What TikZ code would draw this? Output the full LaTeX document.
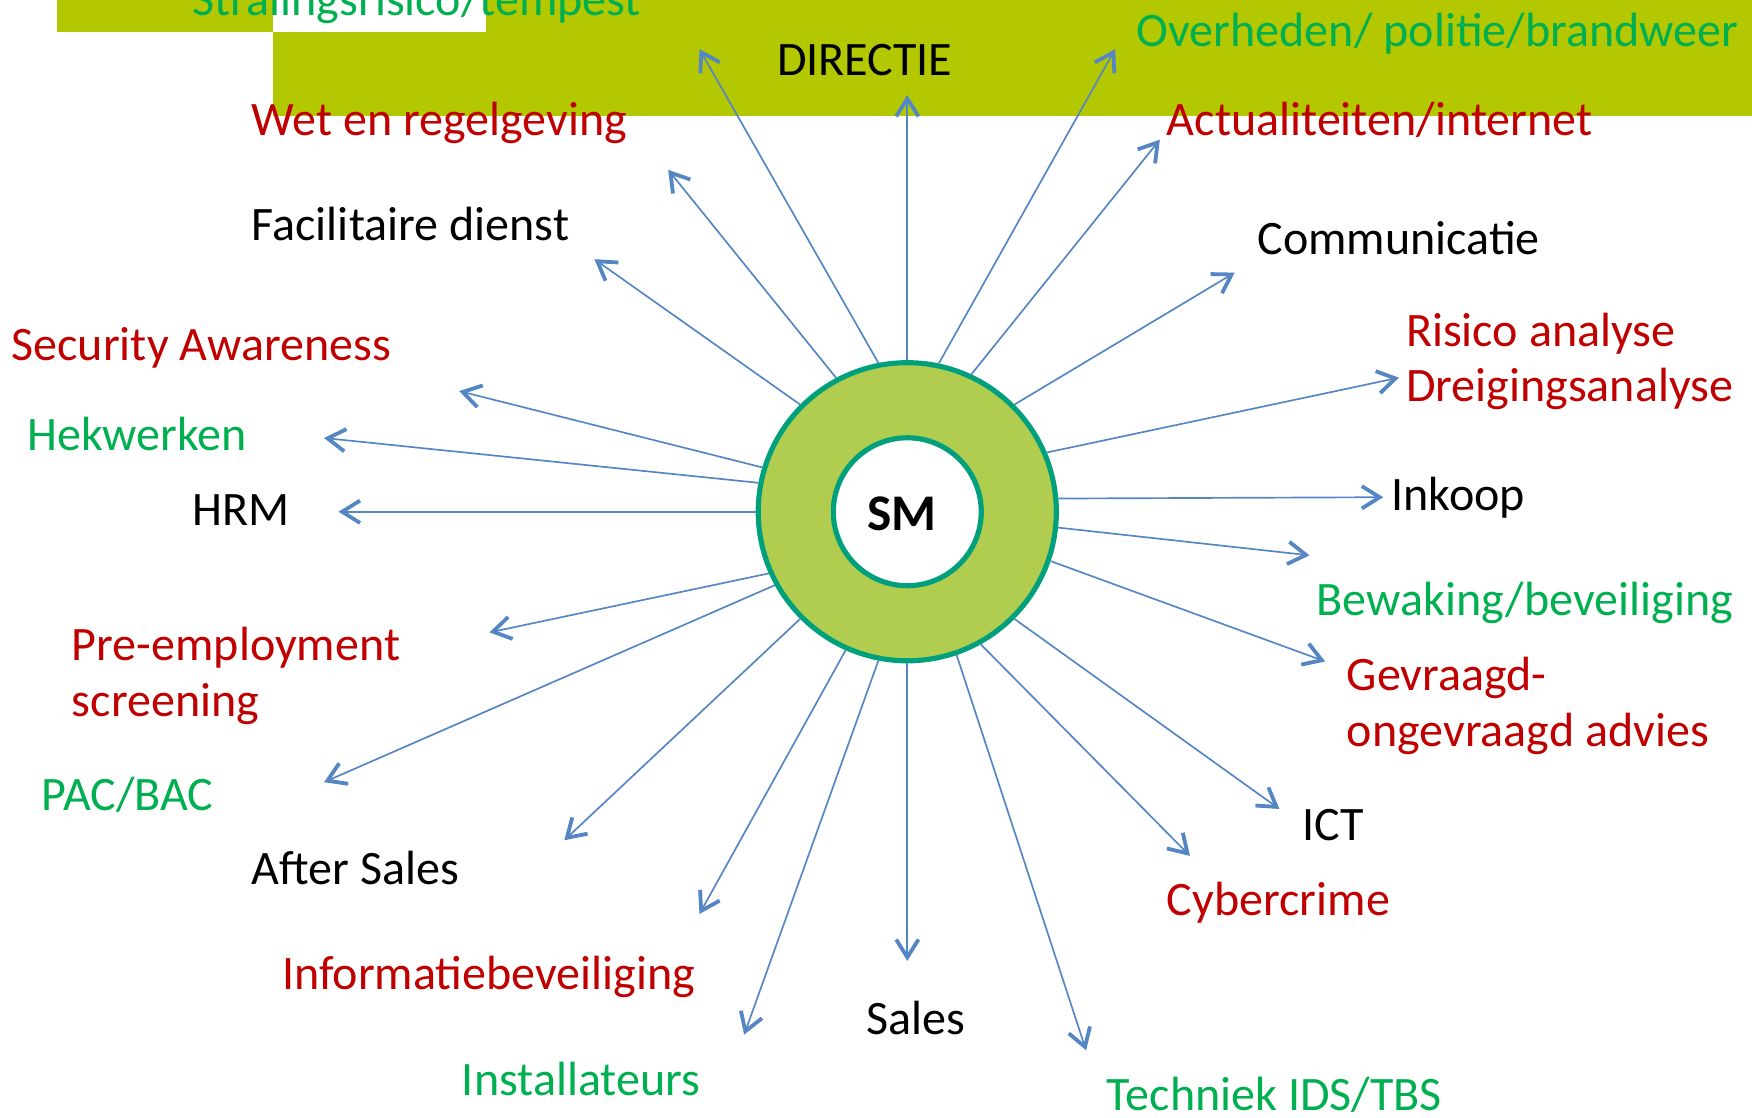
\documentclass[tikz,border=0pt]{standalone}
\usepackage{fontspec}
\setmainfont{Carlito}
\usetikzlibrary{arrows.meta}
\definecolor{band}{RGB}{179,200,0}
\definecolor{ringfill}{RGB}{176,205,80}
\definecolor{ringline}{RGB}{0,160,125}
\definecolor{arrowblue}{RGB}{84,134,196}
\definecolor{lblred}{RGB}{192,0,0}
\definecolor{lblgreen}{RGB}{0,176,80}
\begin{document}
\begin{tikzpicture}[x=0.5pt,y=-0.5pt,
  lbl/.style={anchor=base west, inner sep=0pt, font=\fontsize{21.5}{25}\selectfont},
  lred/.style={lbl, text=lblred},
  lgreen/.style={lbl, text=lblgreen},
  lblack/.style={lbl, text=black},
  conn/.style={draw=arrowblue, line width=0.75pt,
    -{Straight Barb[length=8pt,width=10pt,line width=1.7pt]}}
]
\useasboundingbox (0,0) rectangle (1568,1000);
% green band
\fill[band] (51,0) rectangle (244,29);
\fill[band] (435,0) rectangle (1568,29);
\fill[band] (244,29) rectangle (1568,104);

% ring
\node[circle, draw=ringline, line width=2.3pt, fill=ringfill, inner sep=0pt,
  minimum size=133.4pt] (ring) at (812,458) {};
\node[circle, draw=ringline, line width=2.3pt, fill=white, inner sep=0pt,
  minimum size=66.2pt] (inner) at (812,458) {};
\node[inner sep=0pt, font=\bfseries\fontsize{23}{27}\selectfont] (sm) at (807,460) {SM};

% labels
\node[lgreen] (stral) at (172,14) {Stralingsrisico/tempest};
\node[lblack] (dir) at (695,68) {DIRECTIE};
\node[lgreen] (over) at (1017,42) {Overheden/ politie/brandweer};
\node[lred] (wet) at (225,121) {Wet en regelgeving};
\node[lred] (act) at (1044,121) {Actualiteiten/internet};
\node[lblack] (fac) at (225,215) {Facilitaire dienst};
\node[lblack] (comm) at (1125,228) {Communicatie};
\node[lred] (sec) at (10,323) {Security Awareness};
\node[lred] (risk1) at (1258,310) {Risico analyse};
\node[lred] (risk2) at (1258,359) {Dreigingsanalyse};
\node[lgreen] (hek) at (24,403) {Hekwerken};
\node[lblack] (hrm) at (172,470) {HRM};
\node[lblack] (ink) at (1245,457) {Inkoop};
\node[lgreen] (bew) at (1178,551) {Bewaking/beveiliging};
\node[lred] (pre1) at (64,591) {Pre-employment};
\node[lred] (pre2) at (64,641) {screening};
\node[lred] (gev1) at (1205,618) {Gevraagd-};
\node[lred] (gev2) at (1205,668) {ongevraagd advies};
\node[lgreen] (pac) at (37,725) {PAC/BAC};
\node[lblack] (ict) at (1165,752) {ICT};
\node[lblack] (after) at (225,792) {After Sales};
\node[lred] (cyber) at (1044,819) {Cybercrime};
\node[lred] (info) at (252,886) {Informatiebeveiliging};
\node[lblack] (sales) at (775,926) {Sales};
\node[lgreen] (inst) at (413,980) {Installateurs};
\node[lgreen] (tech) at (990,994) {Techniek IDS/TBS};

% arrow tips
\coordinate (t1) at (626,44);
\coordinate (t2) at (812,85);
\coordinate (t3) at (998,44);
\coordinate (t4) at (1038,125);
\coordinate (t5) at (1105,244);
\coordinate (t6) at (1252,338);
\coordinate (t7) at (1238,445);
\coordinate (t8) at (1172,497);
\coordinate (t9) at (1186,592);
\coordinate (t10) at (1145,724);
\coordinate (t11) at (1065,766);
\coordinate (t12) at (972,940);
\coordinate (t13) at (812,860);
\coordinate (t14) at (666,926);
\coordinate (t15) at (626,818);
\coordinate (t16) at (505,752);
\coordinate (t17) at (290,700);
\coordinate (t18) at (438,566);
\coordinate (t19) at (303,458);
\coordinate (t20) at (290,392);
\coordinate (t21) at (411,350);
\coordinate (t22) at (532,232);
\coordinate (t23) at (598,152);

% connectors
\draw[conn] (ring.101.7) -- (t1);
\draw[conn] (ring.90) -- (t2);
\draw[conn] (ring.78.3) -- (t3);
\draw[conn] (ring.65.1) -- (t4);
\draw[conn] (ring.45) -- (t5);
\draw[conn] (ring.23.6) -- (t6);
\draw[conn] (ring.5.5) -- (t7);
\draw[conn] (ring.-6) -- (t8);
\draw[conn] (ring.-19) -- (t9);
\draw[conn] (ring.-45.3) -- (t10);
\draw[conn] (ring.-61.6) -- (t11);
\draw[conn] (ring.-71.8) -- (t12);
\draw[conn] (ring.-90) -- (t13);
\draw[conn] (ring.-101.3) -- (t14);
\draw[conn] (ring.-114.7) -- (t15);
\draw[conn] (ring.-135) -- (t16);
\draw[conn] (ring.-151.2) -- (t17);
\draw[conn] (ring.-156.4) -- (t18);
\draw[conn] (ring.180) -- (t19);
\draw[conn] (ring.169.1) -- (t20);
\draw[conn] (ring.163.5) -- (t21);
\draw[conn] (ring.135.3) -- (t22);
\draw[conn] (ring.118.6) -- (t23);
\end{tikzpicture}
\end{document}
